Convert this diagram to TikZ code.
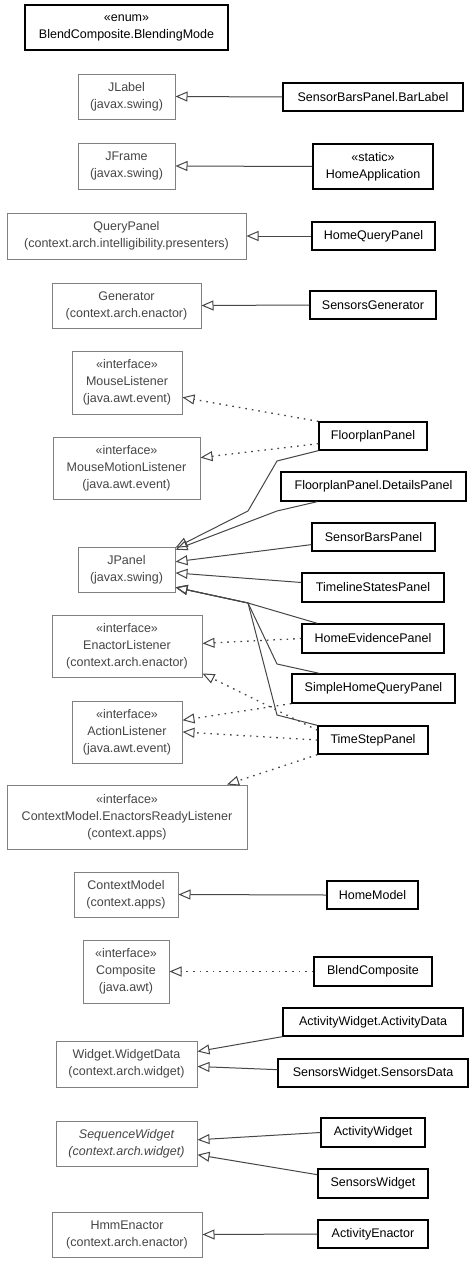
\documentclass[tikz,border=0pt]{standalone}
\usepackage{fontspec}
\setmainfont{Liberation Sans}
\usetikzlibrary{arrows.meta,calc}

\definecolor{extgray}{RGB}{128,128,128}
\definecolor{exttext}{RGB}{70,70,70}
\definecolor{linegray}{RGB}{70,70,70}

\tikzset{
  every node/.style={font=\fontsize{12.5}{17}\selectfont},
  cls/.style={draw=black, line width=1.3pt, inner sep=0pt, align=center, fill=white},
  ext/.style={draw=extgray, line width=1pt, text=exttext, inner sep=0pt, align=center, fill=white},
  gen/.style={draw=linegray, line width=1pt, -{Triangle[open, length=12pt, width=10pt, line width=1pt]}},
  real/.style={gen, line width=1.3pt, dash pattern=on 1.6pt off 5pt}
}

\begin{document}
\begin{tikzpicture}[x=1pt,y=-1pt]
\useasboundingbox (0,0) rectangle (475,1263);

%Shape: Class [mode]
\node [cls, minimum width=203, minimum height=45] (mode) at (126.5,27.5) {«enum»\\BlendComposite.BlendingMode};

%Shape: Class [jlabel] [barlabel]
\node [ext, minimum width=97, minimum height=45] (jlabel) at (126.5,96.5) {JLabel\\(javax.swing)};
\node [cls, minimum width=180, minimum height=28] (barlabel) at (373,97) {SensorBarsPanel.BarLabel};
%Shape: Class [jframe] [homeapp]
\node [ext, minimum width=97, minimum height=46] (jframe) at (126.5,166) {JFrame\\(javax.swing)};
\node [cls, minimum width=120, minimum height=45] (homeapp) at (373,166.5) {«static»\\HomeApplication};
%Shape: Class [querypanel] [homequery]
\node [ext, minimum width=239, minimum height=46] (querypanel) at (126.5,236) {QueryPanel\\(context.arch.intelligibility.presenters)};
\node [cls, minimum width=123, minimum height=28] (homequery) at (373.5,236) {HomeQueryPanel};
%Shape: Class [generator] [sensgen]
\node [ext, minimum width=149, minimum height=45] (generator) at (126.5,305.5) {Generator\\(context.arch.enactor)};
\node [cls, minimum width=126, minimum height=28] (sensgen) at (373,305) {SensorsGenerator};

%Shape: Class [mouselist] [motionlist] [floorplan] [details]
\node [ext, minimum width=110, minimum height=63] (mouselist) at (127,382.5) {«interface»\\MouseListener\\(java.awt.event)};
\node [ext, minimum width=147, minimum height=62] (motionlist) at (126.5,468) {«interface»\\MouseMotionListener\\(java.awt.event)};
\node [cls, minimum width=108, minimum height=28] (floorplan) at (373,436) {FloorplanPanel};
\node [cls, minimum width=185, minimum height=29] (details) at (373.5,486.5) {FloorplanPanel.DetailsPanel};
%Shape: Class [jpanel] and its subclasses
\node [ext, minimum width=97, minimum height=45] (jpanel) at (126.5,569.5) {JPanel\\(javax.swing)};
\node [cls, minimum width=123, minimum height=28] (sensorbars) at (373.5,537) {SensorBarsPanel};
\node [cls, minimum width=142, minimum height=29] (timeline) at (373,587.5) {TimelineStatesPanel};
\node [cls, minimum width=142, minimum height=29] (evidence) at (373,638.5) {HomeEvidencePanel};
\node [cls, minimum width=163, minimum height=29] (simplequery) at (373.5,688.5) {SimpleHomeQueryPanel};
\node [cls, minimum width=110, minimum height=28] (timestep) at (373,740) {TimeStepPanel};
%Shape: Class [enactlist] [actionlist] [readylist]
\node [ext, minimum width=150, minimum height=62] (enactlist) at (127,646) {«interface»\\EnactorListener\\(context.arch.enactor)};
\node [ext, minimum width=110, minimum height=62] (actionlist) at (127,732) {«interface»\\ActionListener\\(java.awt.event)};
\node [ext, minimum width=240, minimum height=64] (readylist) at (127,817) {«interface»\\ContextModel.EnactorsReadyListener\\(context.apps)};

%Shape: Class [contextmodel] [homemodel]
\node [ext, minimum width=104, minimum height=45] (contextmodel) at (126,894.5) {ContextModel\\(context.apps)};
\node [cls, minimum width=91, minimum height=28] (homemodel) at (372.5,895) {HomeModel};
%Shape: Class [composite] [blendcomp]
\node [ext, minimum width=86, minimum height=63] (composite) at (126,971.5) {«interface»\\Composite\\(java.awt)};
\node [cls, minimum width=118, minimum height=29] (blendcomp) at (373,971.5) {BlendComposite};
%Shape: Class [widgetdata] [activitydata] [sensorsdata]
\node [ext, minimum width=141, minimum height=46] (widgetdata) at (126.5,1064) {Widget.WidgetData\\(context.arch.widget)};
\node [cls, minimum width=180, minimum height=28] (activitydata) at (373,1022) {ActivityWidget.ActivityData};
\node [cls, minimum width=190, minimum height=28] (sensorsdata) at (373,1073) {SensorsWidget.SensorsData};
%Shape: Class [seqwidget] [actwidget] [senswidget]
\node [ext, minimum width=141, minimum height=45, font=\fontsize{12.5}{17}\selectfont\itshape] (seqwidget) at (126.5,1143.5) {SequenceWidget\\(context.arch.widget)};
\node [cls, minimum width=104, minimum height=29] (actwidget) at (373,1132.5) {ActivityWidget};
\node [cls, minimum width=110, minimum height=29] (senswidget) at (373,1183.5) {SensorsWidget};
%Shape: Class [hmm] [actenactor]
\node [ext, minimum width=150, minimum height=45] (hmm) at (127,1234.5) {HmmEnactor\\(context.arch.enactor)};
\node [cls, minimum width=110, minimum height=28] (actenactor) at (373,1234) {ActivityEnactor};

%Bend points
\coordinate (fpbend1) at (277,461);
\coordinate (fpbend2) at (248,511);
\coordinate (dpbend) at (277,511);
\coordinate (fork) at (248,603);
\coordinate (sqbend) at (277,664);
\coordinate (tsbend) at (277,715);

%Straight Lines: generalization
\draw [gen] (barlabel.west) -- (jlabel.east);
\draw [gen] (homeapp.west) -- (jframe.east);
\draw [gen] (homequery.west) -- (querypanel.east);
\draw [gen] (sensgen.west) -- (generator.east);
\draw [gen] (floorplan.south west) -- (fpbend1) -- (fpbend2) -- (jpanel.24);
\draw [gen] ($(details.south west)+(37,0)$) -- (dpbend) -- (jpanel.22);
\draw [gen] (sensorbars.187) -- (jpanel.9);
\draw [gen] (timeline.176) -- (jpanel.-4);
\draw [gen] ($(evidence.north west)+(16,0)$) -- (fork) -- (jpanel.-20);
\draw [gen] ($(simplequery.north west)+(28,0)$) -- (sqbend) -- (fork) -- (jpanel.-20);
\draw [gen] (timestep.north west) -- (tsbend) -- (fork) -- (jpanel.-20);
\draw [gen] (homemodel.west) -- (contextmodel.east);
\draw [gen] (activitydata.south west) -- (widgetdata.10);
\draw [gen] (sensorsdata.178) -- (widgetdata.-2);
\draw [gen] (actwidget.west) -- (seqwidget.3);
\draw [gen] (senswidget.171) -- (seqwidget.-9);
\draw [gen] (actenactor.west) -- (hmm.east);

%Straight Lines: realization
\draw [real] (floorplan.north west) -- (mouselist.-15);
\draw [real] (floorplan.188) -- (motionlist.8);
\draw [real] (evidence.west) -- (enactlist.2);
\draw [real] (timestep.170) -- (enactlist.-20);
\draw [real] (simplequery.south west) -- (actionlist.12);
\draw [real] (timestep.west) -- (actionlist.east);
\draw [real] (timestep.south west) -- (readylist.18);
\draw [real] (blendcomp.west) -- (composite.east);

\end{tikzpicture}
\end{document}
